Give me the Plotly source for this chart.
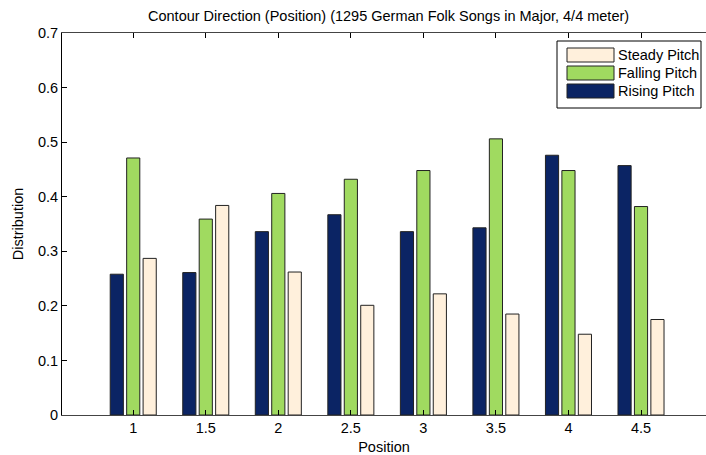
import plotly.graph_objects as go

# Contour direction distribution by metric position
positions = [1, 1.5, 2, 2.5, 3, 3.5, 4, 4.5]
rising = [0.258, 0.261, 0.336, 0.367, 0.336, 0.343, 0.476, 0.457]
falling = [0.471, 0.359, 0.406, 0.432, 0.448, 0.506, 0.448, 0.382]
steady = [0.287, 0.384, 0.262, 0.201, 0.222, 0.185, 0.148, 0.175]

series_names = ["Rising Pitch", "Falling Pitch", "Steady Pitch"]
series_colors = ["#0b2464", "#a0da60", "#fff0dc"]
y_ticks = [0, 0.1, 0.2, 0.3, 0.4, 0.5, 0.6, 0.7]

W, H = 706, 455
L, R, T, B = 62, 0, 33, 40
FONT = "Liberation Sans"
FS = 14.5

fig = go.Figure()
for name, vals, col in zip(series_names, [rising, falling, steady], series_colors):
    fig.add_trace(go.Bar(
        x=positions, y=vals, name=name,
        marker=dict(color=col, line=dict(color="#222222", width=1)),
        showlegend=False,
    ))

# Pixel -> paper helpers for the hand-drawn legend
pw, ph = W - L - R, H - T - B
def px(x):
    return (x - L) / pw
def py(y):
    return (H - B - y) / ph

shapes = [dict(type="rect", xref="paper", yref="paper",
               x0=px(557), x1=px(701), y0=py(108), y1=py(41),
               line=dict(color="#000000", width=1), fillcolor="white", layer="above")]
annotations = []
legend_rows = [("Steady Pitch", series_colors[2], 55), ("Falling Pitch", series_colors[1], 73),
               ("Rising Pitch", series_colors[0], 91)]
for label, col, yc in legend_rows:
    shapes.append(dict(type="rect", xref="paper", yref="paper",
                       x0=px(567), x1=px(614), y0=py(yc + 7), y1=py(yc - 7),
                       line=dict(color="#222222", width=1), fillcolor=col, layer="above"))
    annotations.append(dict(xref="paper", yref="paper", x=px(616), y=py(yc),
                            text=label, showarrow=False, xanchor="left", yanchor="middle",
                            font=dict(family=FONT, size=FS, color="black")))

annotations.append(dict(xref="paper", yref="paper", x=px(388.5), y=py(16),
                        text="Contour Direction (Position) (1295 German Folk Songs in Major, 4/4 meter)",
                        showarrow=False, xanchor="center", yanchor="middle",
                        font=dict(family=FONT, size=FS, color="black")))

fig.update_layout(
    width=W, height=H,
    margin=dict(l=L, r=R, t=T, b=B, pad=0),
    paper_bgcolor="white", plot_bgcolor="white",
    barmode="group", bargap=0.32, bargroupgap=0.2,
    font=dict(family=FONT, size=FS, color="black"),
    shapes=shapes, annotations=annotations,
    xaxis=dict(
        range=[0.509, 4.948], tickmode="array", tickvals=positions,
        ticktext=[str(p) for p in positions],
        ticks="inside", ticklen=5, tickcolor="black",
        showline=True, linecolor="#444444", linewidth=1, mirror="ticks",
        showgrid=False, zeroline=False,
        title=dict(text="Position", standoff=7, font=dict(family=FONT, size=FS)),
    ),
    yaxis=dict(
        range=[0, 0.7], tickmode="array", tickvals=y_ticks,
        ticktext=["0" if v == 0 else f"{v:.1f}" for v in y_ticks],
        ticks="inside", ticklen=5, tickcolor="black",
        showline=True, linecolor="black", linewidth=1, mirror=False,
        showgrid=False, zeroline=False,
        title=dict(text="Distribution", standoff=10, font=dict(family=FONT, size=FS)),
    ),
)

fig.write_html("out.html")
